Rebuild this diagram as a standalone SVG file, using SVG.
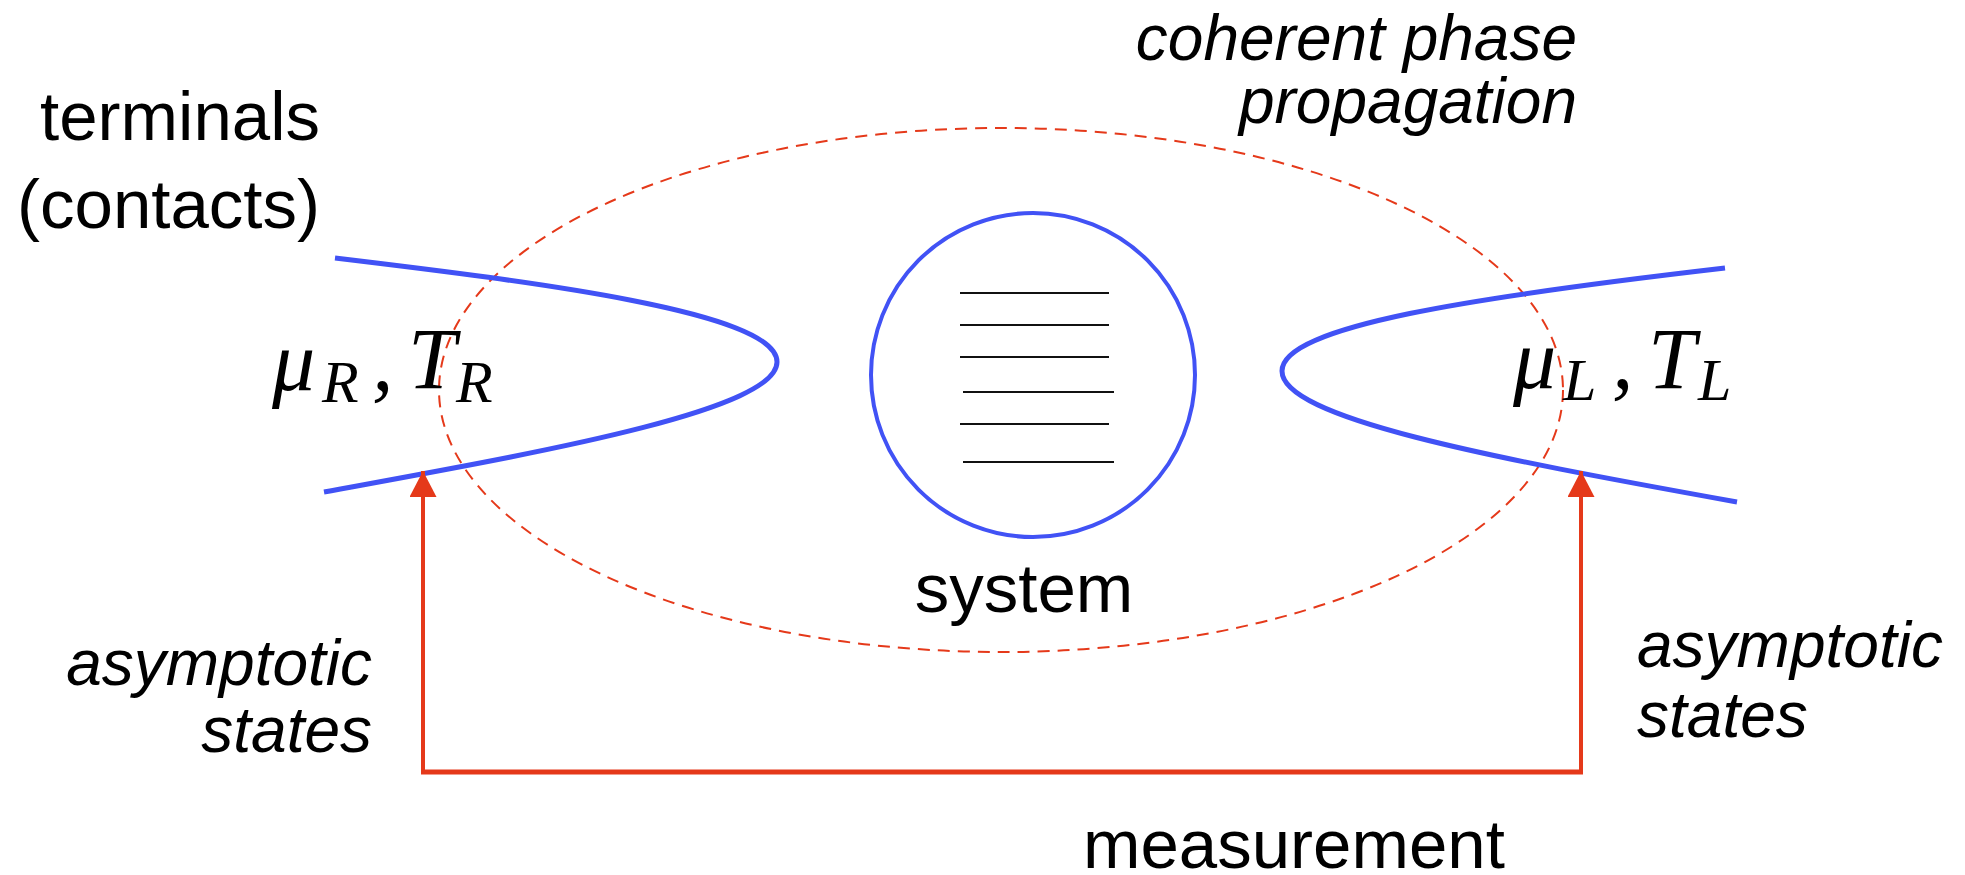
<svg xmlns="http://www.w3.org/2000/svg" width="1965" height="875" viewBox="0 0 1965 875">
<defs>
<style>
.lbl{font-family:"Liberation Sans",Arial,sans-serif;font-size:69px;fill:#000}
.ital{font-family:"Liberation Sans",Arial,sans-serif;font-size:64px;font-style:italic;fill:#000}
.math{font-family:"Liberation Serif","Times New Roman",serif;font-style:italic;fill:#000}
.big{font-size:86px}
.sub{font-size:60px}
.lead{fill:none;stroke:#4152f5;stroke-width:5;stroke-linecap:butt}
.sys{fill:none;stroke:#4152f5;stroke-width:4}
.lvl{stroke:#111;stroke-width:2}
.coh{fill:none;stroke:#e5391a;stroke-width:2;stroke-dasharray:12 8}
.meas{fill:none;stroke:#e5391a;stroke-width:4}
</style>
<marker id="ah" viewBox="0 0 26 27" refX="26" refY="13.5" markerWidth="26" markerHeight="27" markerUnits="userSpaceOnUse" orient="auto">
<path d="M0,0 L26,13.5 L0,27 Z" fill="#e5391a"/>
</marker>
</defs>
<rect width="1965" height="875" fill="#fff"/>

<g id="coherence-region">
<ellipse class="coh" cx="1001" cy="390" rx="562" ry="262"/>
</g>

<g id="lead-right-terminal">
<path class="lead" d="M335,258 C535,282 777,312 777,362 C777,412 524,455 324,492"/>
</g>

<g id="lead-left-terminal">
<path class="lead" d="M1725,268 C1475,297 1282,326 1282,371 C1282,418 1487,457 1737,502"/>
</g>

<g id="system">
<circle class="sys" cx="1033" cy="375" r="162"/>
<line class="lvl" x1="960" y1="293" x2="1109" y2="293"/>
<line class="lvl" x1="960" y1="325" x2="1109" y2="325"/>
<line class="lvl" x1="960" y1="357" x2="1109" y2="357"/>
<line class="lvl" x1="963" y1="392" x2="1114" y2="392"/>
<line class="lvl" x1="960" y1="424" x2="1109" y2="424"/>
<line class="lvl" x1="963" y1="462" x2="1114" y2="462"/>
<text class="lbl" x="1024" y="612" text-anchor="middle">system</text>
</g>

<g id="connectors">
<path class="meas" d="M423,772 L423,471" marker-end="url(#ah)"/>
<path class="meas" d="M1581,772 L1581,471" marker-end="url(#ah)"/>
<line x1="421" y1="772" x2="1583" y2="772" stroke="#e5391a" stroke-width="5"/>
</g>

<g id="labels">
<text class="lbl" x="320" y="140" text-anchor="end">terminals</text>
<text class="lbl" x="320" y="228" text-anchor="end">(contacts)</text>
<text class="ital" x="1577" y="60" text-anchor="end">coherent phase</text>
<text class="ital" x="1577" y="123" text-anchor="end">propagation</text>
<text class="ital" x="372" y="685" text-anchor="end">asymptotic</text>
<text class="ital" x="372" y="752" text-anchor="end">states</text>
<text class="ital" x="1637" y="667">asymptotic</text>
<text class="ital" x="1637" y="737">states</text>
<text class="lbl" x="1083" y="868">measurement</text>
</g>

<g id="mu-R">
<text class="math big" x="272" y="390">μ</text>
<text class="math sub" x="322" y="402">R</text>
<text class="math big" x="372" y="390">,</text>
<text class="math big" x="408" y="388">T</text>
<text class="math sub" x="456" y="402">R</text>
</g>

<g id="mu-L">
<text class="math big" x="1513" y="388">μ</text>
<text class="math sub" x="1563" y="400">L</text>
<text class="math big" x="1612" y="388">,</text>
<text class="math big" x="1648" y="388">T</text>
<text class="math sub" x="1698" y="400">L</text>
</g>
</svg>
